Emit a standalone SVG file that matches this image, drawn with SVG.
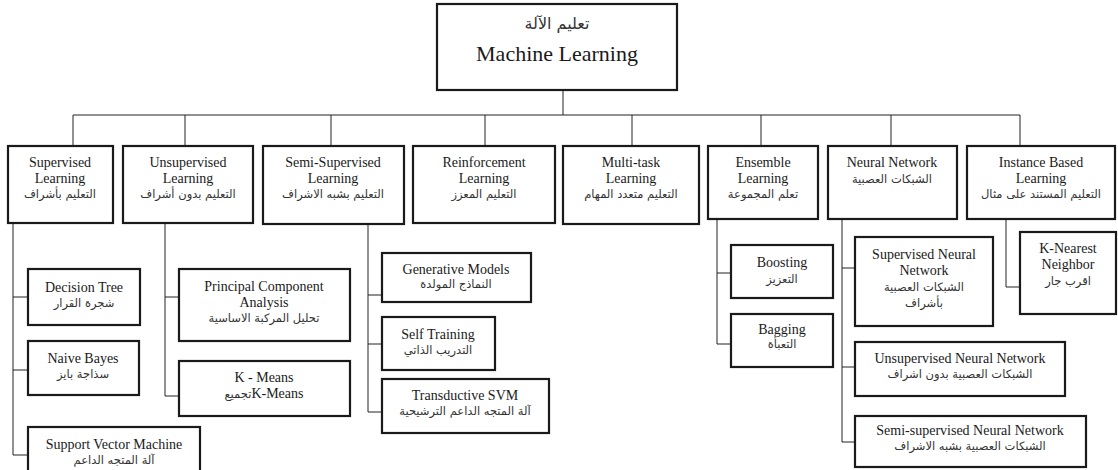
<svg xmlns="http://www.w3.org/2000/svg" width="1118" height="470" viewBox="0 0 1118 470">
<style>
.box{fill:#fff;stroke:#1a1a1a;stroke-width:2.2}
.en{font-family:"Liberation Serif","Times New Roman",serif;font-size:14px;fill:#1a1a1a;text-anchor:middle}
.ar{font-family:"DejaVu Sans","Noto Sans",sans-serif;font-size:11.5px;fill:#333;text-anchor:middle}
.art{font-family:"DejaVu Sans","Noto Sans",sans-serif;font-size:11.5px;fill:#333}
.ln{fill:none;stroke:#222;stroke-width:1}
</style>
<rect width="1118" height="470" fill="#fff"/>
<g id="connectors" class="ln">
<path d="M563 90V115M73 115H1020M73 115V146M185 115V146M331 115V146M485 115V146M632 115V146M761 115V146M891 115V146M1020 115V146"/>
<path d="M13 223V455M13 297H28M13 370H28M13 455H28"/>
<path d="M165 223V396M165 297H179M165 396H179"/>
<path d="M368 224V412M368 295H382M368 344H382M368 412H382"/>
<path d="M717 219V344M717 273H731M717 344H731"/>
<path d="M842 219V442M842 268H855M842 367H855M842 442H855"/>
<path d="M1006 219V287H1020"/>
</g>
<g id="root"><rect class="box" x="437" y="4" width="240" height="86"/>
<text class="ar" x="557" y="29" style="font-size:16px">تعليم الآلة</text>
<text class="en" x="557" y="61" style="font-size:22px">Machine Learning</text></g>
<g id="supervised"><rect class="box" x="8" y="146" width="105" height="77"/>
<text class="en" x="60" y="167">Supervised</text><text class="en" x="60" y="183">Learning</text><text class="ar" x="60" y="198">التعليم بأشراف</text></g>
<g id="unsupervised"><rect class="box" x="123" y="146" width="130" height="77"/>
<text class="en" x="188" y="167">Unsupervised</text><text class="en" x="188" y="183">Learning</text><text class="ar" x="188" y="198">التعليم بدون أشراف</text></g>
<g id="semi"><rect class="box" x="263" y="146" width="141" height="78"/>
<text class="en" x="333" y="167">Semi-Supervised</text><text class="en" x="333" y="183">Learning</text><text class="ar" x="333" y="198">التعليم بشبه الاشراف</text></g>
<g id="reinforcement"><rect class="box" x="413" y="146" width="142" height="77"/>
<text class="en" x="484" y="167">Reinforcement</text><text class="en" x="484" y="183">Learning</text><text class="ar" x="484" y="198">التعليم المعزز</text></g>
<g id="multitask"><rect class="box" x="563" y="146" width="136" height="78"/>
<text class="en" x="631" y="167">Multi-task</text><text class="en" x="631" y="183">Learning</text><text class="ar" x="631" y="198">التعليم متعدد المهام</text></g>
<g id="ensemble"><rect class="box" x="708" y="146" width="110" height="73"/>
<text class="en" x="763" y="167">Ensemble</text><text class="en" x="763" y="183">Learning</text><text class="ar" x="763" y="198">تعلم المجموعة</text></g>
<g id="neural"><rect class="box" x="828" y="146" width="129" height="73"/>
<text class="en" x="892" y="167">Neural Network</text><text class="ar" x="892" y="183">الشبكات العصبية</text></g>
<g id="instance"><rect class="box" x="967" y="146" width="148" height="73"/>
<text class="en" x="1041" y="167">Instance Based</text><text class="en" x="1041" y="183">Learning</text><text class="ar" x="1041" y="198">التعليم المستند على مثال</text></g>
<g id="decision-tree"><rect class="box" x="28" y="269" width="112" height="56"/>
<text class="en" x="84" y="292">Decision Tree</text><text class="ar" x="84" y="307">شجرة القرار</text></g>
<g id="naive-bayes"><rect class="box" x="28" y="341" width="111" height="54"/>
<text class="en" x="83" y="363">Naive Bayes</text><text class="ar" x="83" y="378">سذاجة بايز</text></g>
<g id="svm"><rect class="box" x="28" y="427" width="172" height="50"/>
<text class="en" x="114" y="449">Support Vector Machine</text><text class="ar" x="114" y="464">آلة المتجه الداعم</text></g>
<g id="pca"><rect class="box" x="179" y="269" width="171" height="72"/>
<text class="en" x="264" y="291">Principal Component</text><text class="en" x="264" y="307">Analysis</text><text class="ar" x="264" y="322">تحليل المركبة الاساسية</text></g>
<g id="kmeans"><rect class="box" x="179" y="361" width="171" height="55"/>
<text class="en" x="264" y="382">K - Means</text><text class="en" x="264" y="398" direction="ltr"><tspan class="art">تجميع</tspan><tspan>K-Means</tspan></text></g>
<g id="generative"><rect class="box" x="382" y="253" width="149" height="49"/>
<text class="en" x="456" y="274">Generative Models</text><text class="ar" x="456" y="288">النماذج المولدة</text></g>
<g id="self-training"><rect class="box" x="382" y="317" width="113" height="53"/>
<text class="en" x="438" y="339">Self Training</text><text class="ar" x="438" y="354">التدريب الذاتي</text></g>
<g id="tsvm"><rect class="box" x="382" y="379" width="167" height="54"/>
<text class="en" x="465" y="400">Transductive SVM</text><text class="ar" x="465" y="415">آلة المتجه الداعم الترشيحية</text></g>
<g id="boosting"><rect class="box" x="731" y="245" width="102" height="53"/>
<text class="en" x="782" y="267">Boosting</text><text class="ar" x="782" y="283">التعزيز</text></g>
<g id="bagging"><rect class="box" x="731" y="314" width="102" height="53"/>
<text class="en" x="782" y="334">Bagging</text><text class="ar" x="782" y="348">التعبأة</text></g>
<g id="supervised-nn"><rect class="box" x="855" y="237" width="138" height="89"/>
<text class="en" x="924" y="259">Supervised Neural</text><text class="en" x="924" y="275">Network</text><text class="ar" x="924" y="291">الشبكات العصبية</text><text class="ar" x="924" y="307">بأشراف</text></g>
<g id="unsupervised-nn"><rect class="box" x="855" y="342" width="210" height="54"/>
<text class="en" x="960" y="363">Unsupervised Neural Network</text><text class="ar" x="960" y="378">الشبكات العصبية بدون اشراف</text></g>
<g id="semi-nn"><rect class="box" x="855" y="416" width="231" height="51"/>
<text class="en" x="970" y="435">Semi-supervised Neural Network</text><text class="ar" x="970" y="450">الشبكات العصبية بشبه الاشراف</text></g>
<g id="knn"><rect class="box" x="1020" y="232" width="96" height="82"/>
<text class="en" x="1068" y="253">K-Nearest</text><text class="en" x="1068" y="269">Neighbor</text><text class="ar" x="1068" y="285">اقرب جار</text></g>
</svg>
